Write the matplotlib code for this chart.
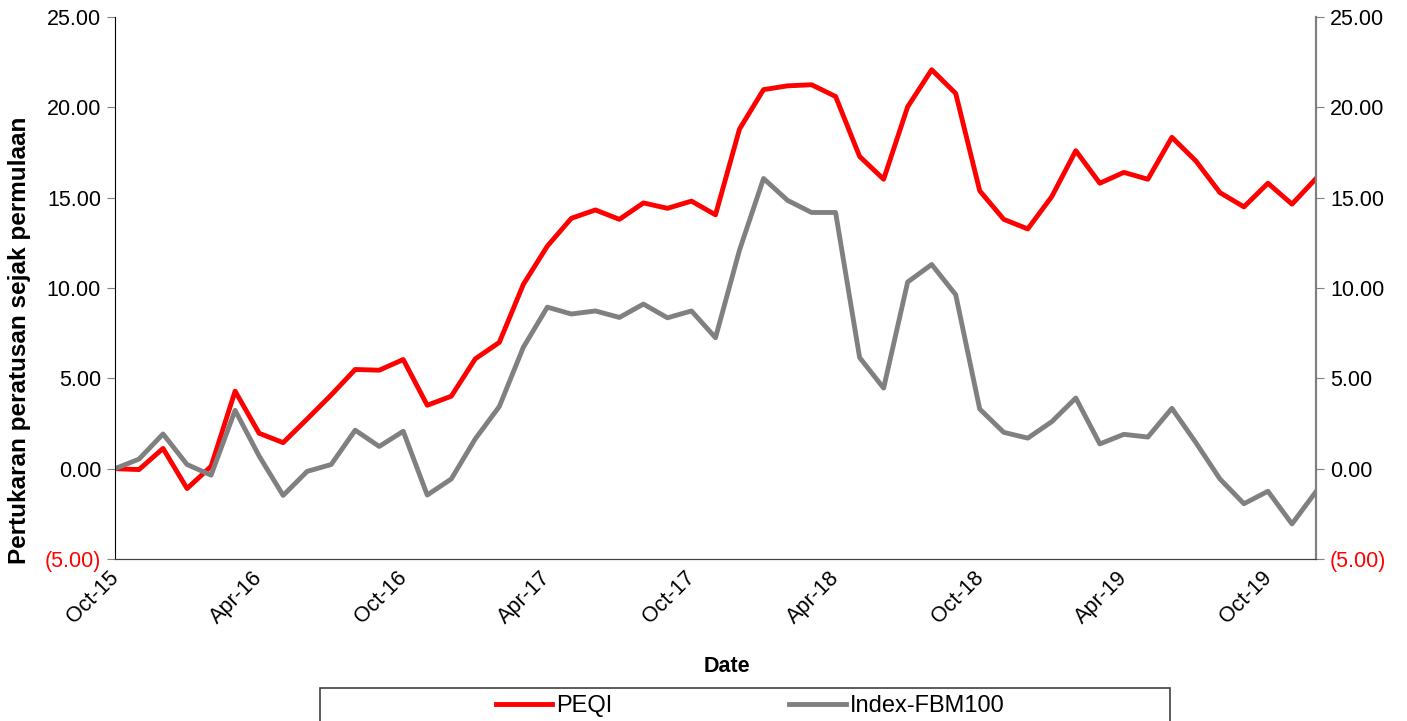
import numpy as np
import pandas as pd
import matplotlib
matplotlib.use("Agg")
import matplotlib.pyplot as plt
from matplotlib.patches import Rectangle
from matplotlib.ticker import FuncFormatter
from matplotlib.transforms import ScaledTranslation

plt.rcParams['font.family'] = ['Liberation Sans', 'DejaVu Sans']

# monthly, Oct-15 .. Dec-19
months = pd.date_range('2015-10-01', periods=51, freq='MS')
peqi = [0.00, -0.05, 1.12, -1.10, 0.13, 4.29, 1.96, 1.44, 2.75, 4.08,
        5.49, 5.45, 6.04, 3.51, 4.01, 6.08, 6.99, 10.20, 12.32, 13.86,
        14.32, 13.80, 14.71, 14.41, 14.81, 14.05, 18.80, 20.98, 21.19, 21.25,
        20.60, 17.28, 16.02, 20.03, 22.08, 20.77, 15.38, 13.80, 13.27, 15.06,
        17.60, 15.80, 16.40, 16.02, 18.34, 17.03, 15.28, 14.49, 15.80, 14.64,
        16.06]
fbm100 = [0.00, 0.53, 1.92, 0.23, -0.36, 3.23, 0.70, -1.48, -0.15, 0.23,
          2.13, 1.23, 2.07, -1.46, -0.57, 1.65, 3.44, 6.72, 8.94, 8.56,
          8.73, 8.37, 9.11, 8.35, 8.73, 7.25, 12.10, 16.06, 14.85, 14.18,
          14.18, 6.15, 4.46, 10.33, 11.30, 9.63, 3.30, 2.01, 1.69, 2.60,
          3.91, 1.37, 1.90, 1.75, 3.34, 1.44, -0.57, -1.94, -1.25, -3.06,
          -1.27]
yticks = [-5, 0, 5, 10, 15, 20, 25]

x = np.arange(len(months))
xt = x[::6]
xt_labels = [m.strftime('%b-%y') for m in months[::6]]

W, H = 1407, 721
fig = plt.figure(figsize=(W / 100, H / 100), dpi=100)
ax = fig.add_axes([115 / W, 1 - 559 / H, (1316 - 115) / W, (559 - 17) / H])

l1, = ax.plot(x, peqi, color='#FF0000', lw=3.5, label='PEQI')
l2, = ax.plot(x, fbm100, color='#808080', lw=3.5, label='Index-FBM100')

ax.set_xlim(x[0], x[-1])
ax.set_ylim(-5, 25)
fmt = FuncFormatter(lambda v, p: f'({abs(v):.2f})' if v < 0 else f'{v:.2f}')

ax.set_yticks(yticks)
ax.yaxis.set_major_formatter(fmt)
ax.set_xticks(xt)
ax.set_xticklabels(xt_labels, rotation=45, ha='right', rotation_mode='anchor')
ax.tick_params(axis='x', length=0, labelsize=15.5, pad=6)
ax.tick_params(axis='y', length=6, color='#808080', labelsize=15.5, pad=4)
shift = ScaledTranslation(-7 / 100, 0, fig.dpi_scale_trans)
for t in ax.get_xticklabels():
    t.set_transform(t.get_transform() + shift)

ax2 = ax.twinx()
ax2.set_ylim(-5, 25)
ax2.set_yticks(yticks)
ax2.yaxis.set_major_formatter(fmt)
ax2.tick_params(axis='y', length=6, color='#808080', labelsize=15.5, pad=4)

for a in (ax, ax2):
    a.spines['top'].set_visible(False)
    a.spines['bottom'].set_color('#404040')
    a.spines['left'].set_color('black')
    a.spines['right'].set_color('#808080')
    a.spines['right'].set_linewidth(1.6)
ax.spines['right'].set_visible(False)
ax2.spines['left'].set_visible(False)

fig.canvas.draw()
for a in (ax, ax2):
    for t, v in zip(a.get_yticklabels(), yticks):
        t.set_color('red' if v < 0 else 'black')

ax.set_ylabel('Pertukaran peratusan sejak permulaan', fontsize=17.5,
              fontweight='bold')
ax.yaxis.set_label_coords(-(115 - 31) / (1316 - 115), (559 - 340) / 542)
ax.set_xlabel('Date', fontsize=15.5, fontweight='bold')
ax.xaxis.set_label_coords((727 - 115) / (1316 - 115), -(656 - 559) / 542)

# legend box running past the bottom edge
fig.patches.append(Rectangle((320 / W, -0.05), (1170 - 320) / W, 0.05 + 1 - 688 / H,
                             transform=fig.transFigure, fill=False,
                             edgecolor='#404040', lw=1.2, clip_on=False))
fig.legend(handles=[l1, l2], loc='center', ncol=2, frameon=False,
           bbox_to_anchor=(750 / W, 1 - 706 / H), fontsize=17,
           handlelength=2.4, handletextpad=0.15, columnspacing=7.5)

fig.savefig('out.png', dpi=100)
